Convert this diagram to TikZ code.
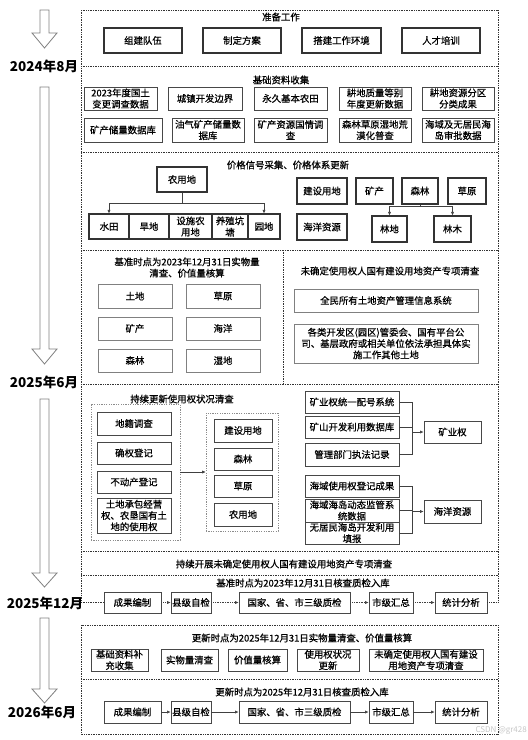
\documentclass[tikz,border=0pt]{standalone}
\usepackage{fontspec}
\setmainfont{Noto Sans CJK SC}
\newfontfamily\tfont{Noto Sans CJK SC}[FakeBold=0.6]
\usetikzlibrary{arrows.meta}
\newcommand{\fs}{\tfont\fontsize{9.4}{11.3}\selectfont}
\newcommand{\yfs}{\fontsize{13.5}{15}\selectfont\bfseries}
\newcommand{\bx}[7][]{\node[#1,minimum width={(#5)-(#3)},minimum height={(#6)-(#4)}] (#2) at ({((#3)+(#5))/2},{((#4)+(#6))/2}) {#7};}
\newcommand{\harr}[3]{\draw[harrow] (40,#1) -- (49,#1) -- (49,#2) -- (57,#2) -- (44.5,#3) -- (32,#2) -- (40,#2) -- cycle;}
\tikzset{
  frame/.style={draw=black!80, line width=0.8pt, dash pattern=on 0.8pt off 0.9pt},
  grp/.style={draw=black!45, line width=0.6pt, dash pattern=on 1.2pt off 1.2pt, inner sep=0pt},
  bA/.style={draw=black!80, line width=1.1pt, inner sep=0pt, align=center, font=\fs},
  bB/.style={draw=black!72, line width=0.8pt, inner sep=0pt, align=center, font=\fs},
  bC/.style={draw=black!50, line width=0.8pt, inner sep=0pt, align=center, font=\fs},
  ttl/.style={inner sep=0pt, align=center, font=\fs},
  yl/.style={inner sep=0pt, font=\yfs},
  ln/.style={draw=black!75, line width=0.6pt},
  arr/.style={draw=black!75, line width=0.6pt, -{Latex[length=3.5pt,width=3.2pt]}},
  darr/.style={draw=black!75, line width=0.6pt, dash pattern=on 0.8pt off 0.9pt, -{Latex[length=3.5pt,width=3.2pt]}},
  harrow/.style={draw=black!50, line width=0.8pt, fill=white, line join=miter}
}
\begin{document}
\begin{tikzpicture}[x=1pt,y=-1pt]
\useasboundingbox (0,0) rectangle (528,740);
\fill[white] (0,0) rectangle (528,740);
% ---------- left timeline ----------
\harr{10}{33}{48}
\harr{87}{349}{364}
\harr{399}{573}{587}
\harr{618}{689}{703}
\node[yl] (y1) at (44,66) {2024年8月};
\node[yl] (y2) at (44,382) {2025年6月};
\node[yl] (y3) at (45,603) {2025年12月};
\node[yl] (y4) at (42,712) {2026年6月};
% ---------- dotted frames ----------
\draw[frame] (81,10) -- (498,10);
\draw[frame] (81,10) -- (81,603);
\draw[frame] (498,10) -- (498,603);
\draw[frame] (81,66) -- (498,66);
\draw[frame] (81,152) -- (498,152);
\draw[frame] (81,250) -- (498,250);
\draw[frame] (283,250) -- (283,384);
\draw[frame] (81,384) -- (498,384);
\draw[frame] (81,551) -- (498,551);
\draw[frame] (81,575) -- (498,575);
\draw[frame] (81,625) rectangle (498,734);
\draw[frame] (81,679) -- (498,679);
% ---------- S1 ----------
\node[ttl] (t1) at (281,17) {准备工作};
\bx[bA]{s1a}{104}{28}{182}{53}{组建队伍}
\bx[bA]{s1b}{203}{28}{281}{53}{制定方案}
\bx[bA]{s1c}{302}{28}{381}{53}{搭建工作环境}
\bx[bA]{s1d}{402}{28}{480}{53}{人才培训}
% ---------- S2 ----------
\node[ttl] (t2) at (281,80) {基础资料收集};
\bx[bB]{s2a}{84}{87}{157}{110}{2023年度国土\\变更调查数据}
\bx[bB]{s2b}{168}{87}{242}{110}{城镇开发边界}
\bx[bB]{s2c}{254}{87}{327}{110}{永久基本农田}
\bx[bB]{s2d}{339}{87}{411}{110}{耕地质量等别\\年度更新数据}
\bx[bB]{s2e}{422}{87}{494}{110}{耕地资源分区\\分类成果}
\bx[bB]{s2f}{84}{118}{162}{142}{矿产储量数据库}
\bx[bB]{s2g}{172}{118}{244}{142}{油气矿产储量数\\据库}
\bx[bB]{s2h}{254}{118}{327}{142}{矿产资源国情调\\查}
\bx[bB]{s2i}{339}{118}{411}{142}{森林草原湿地荒\\漠化普查}
\bx[bB]{s2j}{422}{118}{494}{142}{海域及无居民海\\岛审批数据}
% ---------- S3 ----------
\node[ttl] (t3) at (288,165) {价格信号采集、价格体系更新};
\bx[bA]{nyd}{157}{167}{207}{192}{农用地}
\bx[bA]{st}{89}{214}{129}{239}{水田}
\bx[bA]{hd}{129}{214}{169}{239}{旱地}
\bx[bA]{ss}{169}{214}{212}{239}{设施农\\用地}
\bx[bA]{yz}{212}{214}{248}{239}{养殖坑\\塘}
\bx[bA]{yd}{248}{214}{280}{239}{园地}
\coordinate (j1) at (182,203);
\draw[ln] (nyd.south) -- (j1);
\draw[arr] (j1) -| (st.north);
\draw[arr] (j1) -| (yd.north);
\bx[bA]{jsyd}{297}{178}{347}{204}{建设用地}
\bx[bA]{hyzy3}{297}{214}{347}{240}{海洋资源}
\bx[bA]{kc3}{356}{178}{393}{204}{矿产}
\bx[bA]{sl3}{402}{178}{438}{204}{森林}
\bx[bA]{cy3}{448}{178}{486}{204}{草原}
\bx[bA]{ld}{372}{216}{407}{242}{林地}
\bx[bA]{lm}{434}{216}{471}{242}{林木}
\coordinate (j2) at (420,206);
\draw[ln] (sl3.south) -- (j2);
\draw[arr] (j2) -| (ld.north);
\draw[arr] (j2) -| (lm.north);
% ---------- S4 ----------
\node[ttl] (t4a) at (187,267.5) {基准时点为2023年12月31日实物量\\清查、价值量核算};
\bx[bC]{td4}{98}{284}{172}{308}{土地}
\bx[bC]{cy4}{186}{284}{260}{308}{草原}
\bx[bC]{kc4}{98}{317}{172}{340}{矿产}
\bx[bC]{hy4}{186}{317}{260}{340}{海洋}
\bx[bC]{sl4}{98}{349}{172}{372}{森林}
\bx[bC]{sd4}{186}{349}{260}{372}{湿地}
\node[ttl] (t4b) at (390,271) {未确定使用权人国有建设用地资产专项清查};
\bx[bC]{qm}{294}{289}{478}{312}{全民所有土地资产管理信息系统}
\bx[bC]{gl}{294}{324}{478}{363}{各类开发区(园区)管委会、国有平台公\\司、基层政府或相关单位依法承担具体实\\施工作其他土地}
% ---------- S5 ----------
\node[ttl] (t5) at (182,399) {持续更新使用权状况清查};
\bx[grp]{grpL}{91}{404}{180}{540}{}
\bx[grp]{grpR}{206}{413}{278}{531}{}
\bx[bB]{dj}{97}{412}{171}{435}{地籍调查}
\bx[bB]{qq}{97}{442}{171}{464}{确权登记}
\bx[bB]{bdc}{97}{471}{171}{493}{不动产登记}
\bx[bB]{tdcb}{97}{498}{171}{533}{土地承包经营\\权、农垦国有土\\地的使用权}
\draw[arr] (grpL.east) -- (grpR.west);
\bx[bB]{js5}{214}{419}{272}{442}{建设用地}
\bx[bB]{sl5}{214}{448}{272}{470}{森林}
\bx[bB]{cy5}{214}{475}{272}{497}{草原}
\bx[bB]{ny5}{214}{503}{272}{526}{农用地}
\bx[bB]{k1}{305}{391}{399}{413}{矿业权统一配号系统}
\bx[bB]{k2}{305}{416}{399}{438}{矿山开发利用数据库}
\bx[bB]{k3}{305}{443}{399}{466}{管理部门执法记录}
\bx[bB]{kyq}{424}{421}{481}{443}{矿业权}
\coordinate (kj) at (412,432);
\draw[ln] (k1.east) -| (kj);
\draw[ln] (k3.east) -| (kj);
\draw[ln] (k2.east) -- (k2.east -| kj);
\draw[arr] (kj) -- (kyq.west);
\bx[bB]{h1}{305}{475}{399}{497}{海域使用权登记成果}
\bx[bB]{h2}{305}{499}{399}{522}{海域海岛动态监管系\\统数据}
\bx[bB]{h3}{305}{522}{399}{544}{无居民海岛开发利用\\填报}
\bx[bB]{hyzy5}{424}{500}{481}{523}{海洋资源}
\coordinate (oj) at (412,511.5);
\draw[ln] (h1.east) -| (oj);
\draw[ln] (h3.east) -| (oj);
\draw[ln] (h2.east) -- (h2.east -| oj);
\draw[arr] (oj) -- (hyzy5.west);
% ---------- S6 ----------
\node[ttl] (t6) at (284,564) {持续开展未确定使用权人国有建设用地资产专项清查};
% ---------- S7 ----------
\node[ttl] (t7) at (303,583) {基准时点为2023年12月31日核查质检入库};
\bx[bB]{q1}{104}{592}{161}{613}{成果编制}
\bx[bB]{q2}{171}{592}{211}{613}{县级自检}
\bx[bB]{q3}{239}{592}{350}{613}{国家、省、市三级质检}
\bx[bB]{q4}{369}{592}{413}{613}{市级汇总}
\bx[bB]{q5}{435}{592}{487}{613}{统计分析}
\coordinate (qa) at (81,602.5);
\coordinate (qb) at (498,602.5);
\draw[frame] (qa) -- (q1.west);
\draw[darr] (q1) -- (q2);
\draw[darr] (q2) -- (q3);
\draw[darr] (q3) -- (q4);
\draw[darr] (q4) -- (q5);
\draw[frame] (q5.east) -- (qb);
% ---------- S8 ----------
\node[ttl] (t8) at (302,638) {更新时点为2025年12月31日实物量清查、价值量核算};
\bx[bB]{u1}{91}{649}{148}{671}{基础资料补\\充收集}
\bx[bB]{u2}{161}{649}{218}{671}{实物量清查}
\bx[bB]{u3}{228}{649}{287}{671}{价值量核算}
\bx[bB]{u4}{297}{649}{359}{671}{使用权状况\\更新}
\bx[bB]{u5}{369}{649}{483}{671}{未确定使用权人国有建设\\用地资产专项清查}
% ---------- S9 ----------
\node[ttl] (t9) at (302,692) {更新时点为2025年12月31日核查质检入库};
\bx[bB]{r1}{104}{701}{161}{723}{成果编制}
\bx[bB]{r2}{171}{701}{211}{723}{县级自检}
\bx[bB]{r3}{239}{701}{350}{723}{国家、省、市三级质检}
\bx[bB]{r4}{369}{701}{413}{723}{市级汇总}
\bx[bB]{r5}{435}{701}{487}{723}{统计分析}
\draw[arr] (r1) -- (r2);
\draw[arr] (r2) -- (r3);
\draw[arr] (r3) -- (r4);
\draw[arr] (r4) -- (r5);
% ---------- watermark ----------
\node[inner sep=0pt, anchor=east, text=black!22, font=\fontsize{8}{9}\selectfont] (wm) at (527,731) {CSDN @gr428};
\end{tikzpicture}
\end{document}
